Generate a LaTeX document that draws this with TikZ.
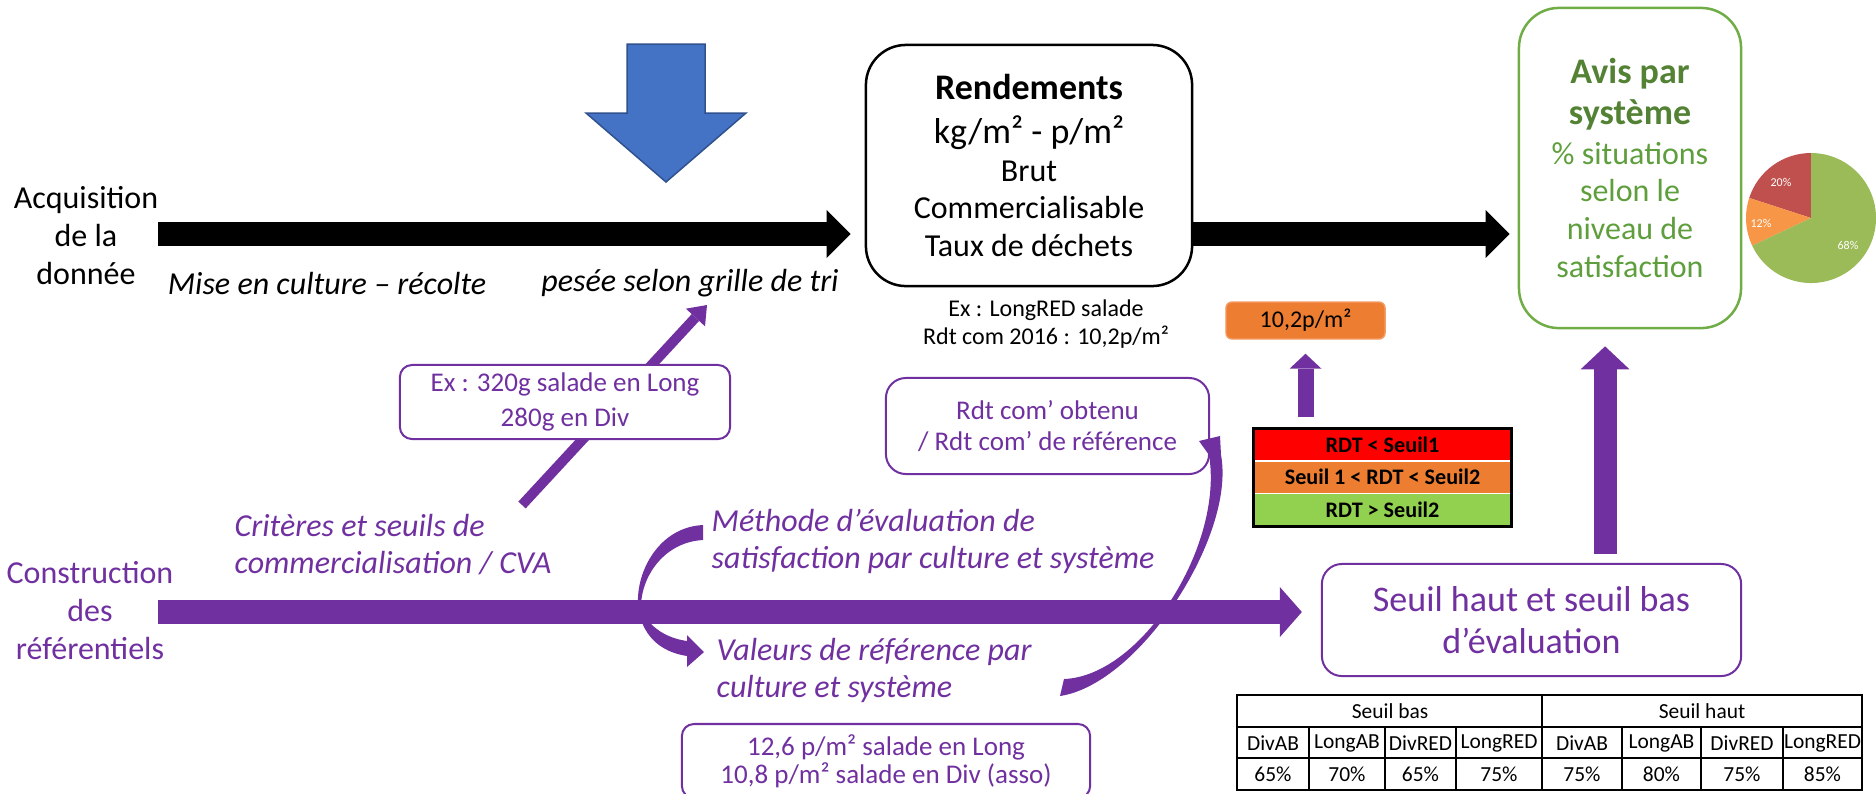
\documentclass[tikz,border=0pt]{standalone}
\usepackage{fontspec}
\setmainfont{Carlito}
\usetikzlibrary{arrows.meta,positioning}

\definecolor{purp}{HTML}{7030A0}
\definecolor{blueA}{HTML}{4472C4}
\definecolor{blueB}{HTML}{2F528F}
\definecolor{avisgreen}{HTML}{70AD47}
\definecolor{avisdark}{HTML}{548235}
\definecolor{avistext}{HTML}{5E9E3C}
\definecolor{piered}{HTML}{C0504D}
\definecolor{pieorange}{HTML}{F79646}
\definecolor{piegreen}{HTML}{9BBB59}
\definecolor{ctred}{HTML}{FF0000}
\definecolor{ctorange}{HTML}{ED7D31}
\definecolor{ctgreen}{HTML}{92D050}

\newcommand{\ftmain}{\fontsize{9.1}{10.8}\selectfont}
\newcommand{\ftbig}{\fontsize{10.24}{11.95}\selectfont}
\newcommand{\ftit}{\fontsize{9.1}{10.53}\selectfont\itshape}
\newcommand{\ftsmall}{\fontsize{6.83}{7.97}\selectfont}
\newcommand{\fttab}{\fontsize{6.1}{7.2}\selectfont}
\newcommand{\ftseuil}{\fontsize{6.3}{7.4}\selectfont\bfseries}
\newcommand{\ftpie}{\fontsize{3.41}{4}\selectfont}

\begin{document}
\begin{tikzpicture}[x=0.01cm, y=-0.01cm,
    every node/.style={inner sep=0pt, align=center},
    blkarr/.style={line width=2.4mm, -{Triangle[length=2.4mm, width=4.8mm, line width=0pt]}},
    purarr/.style={draw=purp, line width=2.4mm, -{Triangle[length=2.2mm, width=5mm, line width=0pt]}},
    blkbox/.style={draw, line width=0.25mm, fill=white, rounded corners=4mm},
    purbox/.style={draw=purp, line width=0.2mm, fill=white, rounded corners=1.2mm, text=purp},
    ptext/.style={text=purp, font=\ftit, align=left, anchor=west},
    seuilrow/.style={minimum width=2.57cm, minimum height=0.313cm, font=\ftseuil},
    cell/.style={font=\fttab}]
    \clip (0,0) rectangle (1876,793);

    % Acquisition de la donnee
    \filldraw[fill=blueA, draw=blueB, line width=0.15mm] (627,44) -- (705,44) -- (705,113) -- (746,113) -- (666,182) -- (586,113) -- (627,113) -- cycle;
    \node[font=\ftmain] (acq) at (86,236) {Acquisition\\de la\\donnée};
    \coordinate (acqstart) at (158,234);
    \node[font=\ftmain\itshape] (mise) at (327,283) {Mise en culture – récolte};
    \node[font=\ftmain\itshape] (pesee) at (690,283) {pesée selon grille de tri};
    \node[blkbox, font=\ftmain, minimum width=3.26cm, minimum height=2.41cm] (rdt) at (1029,165.5)
        {{\ftbig\bfseries Rendements}\\[1.7pt]{\ftbig kg/m² - p/m²}\\Brut\\Commercialisable\\Taux de déchets};
    \node[font=\ftsmall] (exlong) at (1046,324) {Ex : LongRED salade\\Rdt com 2016 : 10,2p/m²};
    \node[draw=avisgreen, line width=0.25mm, rounded corners=4mm, minimum width=2.22cm, minimum height=3.2cm, font=\ftmain, text=avistext] (avis) at (1630,168)
        {{\ftbig\bfseries\color{avisdark}Avis par}\\[1.1pt]{\ftbig\bfseries\color{avisdark}système}\\[0.3pt]\% situations\\selon le\\niveau de\\satisfaction};
    \draw[blkarr, shorten >=1.4mm] (acqstart) -- (acqstart -| rdt.west);
    \draw[blkarr, shorten >=0.8mm] (acqstart -| rdt.east) -- (acqstart -| avis.west);

    % Pie 20/12/68
    \coordinate (pie) at (1811,218);
    \fill[piered] (pie) -- ++(-90:65) arc[start angle=-90, end angle=-162, radius=65] -- cycle;
    \fill[pieorange] (pie) -- ++(-162:65) arc[start angle=-162, end angle=-205.2, radius=65] -- cycle;
    \fill[piegreen] (pie) -- ++(-205.2:65) arc[start angle=-205.2, end angle=-450, radius=65] -- cycle;
    \node[font=\ftpie, text=white] (p20) at (1781,182) {20\%};
    \node[font=\ftpie, text=white] (p12) at (1761,223) {12\%};
    \node[font=\ftpie, text=white] (p68) at (1848,245) {68\%};

    % Evaluation
    \node[fill=ctorange, draw=ctorange!75!white, rounded corners=0.6mm, minimum width=1.59cm, minimum height=0.37cm, font=\ftsmall] (obox) at (1305.5,320.5) {10,2p/m²};
    \node[seuilrow, fill=ctred] (ct1) at (1382.5,444.5) {RDT < Seuil1};
    \node[seuilrow, fill=ctorange, below=0pt of ct1] (ct2) {Seuil 1 < RDT < Seuil2};
    \node[seuilrow, fill=ctgreen, below=0pt of ct2] (ct3) {RDT > Seuil2};
    \draw[line width=0.3mm] (ct1.north west) rectangle (ct3.south east);
    \draw[purarr, line width=1.6mm, -{Triangle[length=1.5mm, width=3.2mm, line width=0pt]}, shorten <=1.1mm, shorten >=1.4mm] (obox.south |- ct1.north) -- (obox.south);
    \node[purbox, font=\fontsize{7.68}{8.8}\selectfont, rounded corners=2mm, minimum width=3.23cm, minimum height=0.96cm] (rdtcom) at (1047.5,426) {Rdt com’ obtenu\\/ Rdt com’ de référence};

    % Construction des referentiels
    \node[font=\ftmain, text=purp] (cons) at (90,611) {Construction\\des\\référentiels};
    \coordinate (refstart) at (158,612);
    \node[purbox, font=\ftbig, rounded corners=2mm, minimum width=4.19cm, minimum height=1.12cm] (seuil) at (1531.5,620) {Seuil haut et seuil bas\\d’évaluation};
    \fill[purp] (703,525) .. controls (660,527) and (636,570) .. (638,605) .. controls (641,635) and (660,652) .. (687,656) -- (687,667) -- (704,652) -- (687,635) -- (687,641) .. controls (665,638) and (645,625) .. (641,605) .. controls (642,575) and (665,542) .. (703,540) -- cycle;
    \draw[purarr, shorten >=1.9mm] (refstart) -- (refstart -| seuil.west);
    \fill[purp] (1060,696) -- (1064,679) .. controls (1142,676) and (1224,545) .. (1209,455) -- (1199,441) -- (1220,436) -- (1221,455) .. controls (1236,535) and (1140,684) .. (1060,696) -- cycle;
    \draw[purarr, line width=2.3mm, -{Triangle[length=2.3mm, width=4.9mm, line width=0pt]}, shorten <=0.9mm, shorten >=1.7mm] ([xshift=7.35mm]seuil.north) -- ([xshift=7.35mm]seuil.north |- avis.south);
    \node[ptext] (crit) at (234,545) {Critères et seuils de\\commercialisation / CVA};
    \node[ptext] (meth) at (711,541) {Méthode d’évaluation de\\satisfaction par culture et système};
    \node[ptext] (val) at (716,670) {Valeurs de référence par\\culture et système};
    \coordinate (exfrom) at (522,505);
    \coordinate (exto) at (707,305);
    \draw[purarr, line width=1mm, -{Triangle[length=1.7mm, width=2.6mm, line width=0pt]}] (exfrom) -- (exto);
    \node[purbox, font=\fontsize{7.68}{9.96}\selectfont, minimum width=3.3cm, minimum height=0.74cm] (exbox) at (565,402) {Ex : 320g salade en Long\\280g en Div};
    \node[purbox, font=\fontsize{7.68}{7.97}\selectfont, minimum width=4.08cm, minimum height=0.74cm] (valbox) at (886,761) {12,6 p/m² salade en Long\\10,8 p/m² salade en Div (asso)};

    % Seuils table
    \draw[line width=0.2mm] (1237,695) rectangle (1862,790);
    \draw[line width=0.2mm] (1237,727) -- (1862,727) (1237,758) -- (1862,758) (1542,695) -- (1542,790);
    \foreach \x in {1309,1385,1456,1622,1701,1783} \draw[line width=0.2mm] (\x,727) -- (\x,790);
    \node[cell] (sbas) at (1390,711) {Seuil bas};
    \node[cell] (shaut) at (1702,711) {Seuil haut};
    \foreach \x/\sys/\pc [count=\i] in {1273/DivAB/65, 1347/LongAB/70, 1420.5/DivRED/65, 1499/LongRED/75, 1582/DivAB/75, 1661.5/LongAB/80, 1742/DivRED/75, 1822.5/LongRED/85} {
        \node[cell] (sys\i) at (\x,743) {\sys};
        \node[cell] (pc\i) at (\x,774) {\pc\%};
    }
\end{tikzpicture}
\end{document}
